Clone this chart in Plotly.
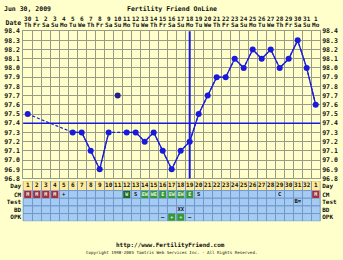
import plotly.graph_objects as go

# ---------------- data ----------------
DAYS = list(range(1, 34))
DATES = ["30", "1", "2", "3", "4", "5", "6", "7", "8", "9", "10", "11", "12", "13", "14", "15", "16",
         "17", "18", "19", "20", "21", "22", "23", "24", "25", "26", "27", "28", "29", "30", "31", "1"]
WEEKDAYS = ["Th", "Fr", "Sa", "Su", "Mo", "Tu", "We", "Th", "Fr", "Sa", "Su", "Mo", "Tu", "We", "Th", "Fr", "Sa",
            "Su", "Mo", "Tu", "We", "Th", "Fr", "Sa", "Su", "Mo", "Tu", "We", "Th", "Fr", "Sa", "Su", "Mo"]
DAY_LABELS = ["1", "2", "3", "4", "5", "6", "7", "8", "9", "10", "11", "12", "13", "14", "15", "16", "17",
              "18", "19", "20", "21", "22", "23", "24", "25", "26", "27", "28", "29", "30", "31", "32", "1"]
TEMPS = [97.5, None, None, None, None, 97.3, 97.3, 97.1, 96.9, 97.3, 97.7, 97.3, 97.3, 97.2, 97.3, 97.1, 96.9,
         97.1, 97.2, 97.5, 97.7, 97.9, 97.9, 98.1, 98.0, 98.2, 98.1, 98.2, 98.0, 98.1, 98.3, 98.0, 97.6]
DISCARDED_DAYS = [11]
COVERLINE = 97.4
OVULATION_DAY = 19
Y_VALUES = [96.8, 96.9, 97.0, 97.1, 97.2, 97.3, 97.4, 97.5, 97.6, 97.7, 97.8, 97.9, 98.0, 98.1, 98.2, 98.3, 98.4]
Y_LABELS = ["96.8", "96.9", "97.0", "97.1", "97.2", "97.3", "97.4", "97.5", "97.6", "97.7", "97.8", "97.9",
            "98.0", "98.1", "98.2", "98.3", "98.4"]
ROW_NAMES = ["Day", "CM", "Test", "BD", "OPK"]

CM_DAYS = [1, 2, 3, 4, 5, 12, 13, 14, 15, 16, 17, 18, 19, 20, 29, 33]
CM_CODES = ["M", "M", "M", "M", "+", "W", "S", "EW", "WE", "E", "EW", "EW", "E", "S", "C", "M"]
TEST_DAYS = [31]
TEST_CODES = ["B="]
BD_DAYS = [18]
BD_CODES = ["XX"]
OPK_DAYS = [16, 17, 18, 19]
OPK_CODES = ["\u2013", "+", "+", "\u2013"]

# ---------------- style ----------------
W, H = 343, 260
MONO = "DejaVu Sans Mono"
CREAM = "#FFFFCC"
GRID = "#9A9A8A"
BLUE = "#1A1ADD"
DAYROW = "#FFEA99"
TABLEBLUE = "#A6CBF2"
TABLEGRID = "#6F98CC"
PINK = "#EE9A9A"
DARKRED = "#993344"
GREEN = "#339933"
DARKGREEN = "#1F6A1F"
TXT = "#111111"

# table row edges in pixel-like units (Day row a bit taller)
ROW_EDGES = [0, 10, 17.9, 25.8, 33.7, 41.6]
ROW_MID = [(a + b) / 2 for a, b in zip(ROW_EDGES[:-1], ROW_EDGES[1:])]

x_dom = [23.2 / W, 320.2 / W]
main_dom = [1 - 180 / H, 1 - 28 / H]
table_top = 182.5
table_dom = [1 - (table_top + ROW_EDGES[-1]) / H, 1 - table_top / H]
head_dom = [1 - 26 / H, 1 - 12 / H]
xrange = [0.5, 33.5]
bounds = [d - 0.5 for d in DAYS] + [DAYS[-1] + 0.5]
trange = [ROW_EDGES[-1], ROW_EDGES[0]]

fig = go.Figure()

# --- temperature lines ---
valid = [(d, t) for d, t in zip(DAYS, TEMPS) if t is not None and d not in DISCARDED_DAYS]
fig.add_trace(go.Scatter(x=[v[0] for v in valid], y=[v[1] for v in valid], mode="lines",
                         line=dict(color=BLUE, width=1.2, dash="3px,2px"), connectgaps=True,
                         hoverinfo="skip", xaxis="x", yaxis="y"))
solid = [t if (t is not None and d not in DISCARDED_DAYS) else None for d, t in zip(DAYS, TEMPS)]
fig.add_trace(go.Scatter(x=DAYS, y=solid, mode="lines", connectgaps=False,
                         line=dict(color=BLUE, width=1.3), hoverinfo="skip", xaxis="x", yaxis="y"))
fig.add_trace(go.Scatter(x=[v[0] for v in valid], y=[v[1] for v in valid], mode="markers",
                         marker=dict(color=BLUE, size=6), xaxis="x", yaxis="y"))
disc = [(d, t) for d, t in zip(DAYS, TEMPS) if d in DISCARDED_DAYS]
fig.add_trace(go.Scatter(x=[v[0] for v in disc], y=[v[1] for v in disc], mode="markers",
                         marker=dict(color="#22228A", size=6), xaxis="x", yaxis="y"))
# dummy for right axis
fig.add_trace(go.Scatter(x=[DAYS[0]], y=[Y_VALUES[0]], mode="markers", marker=dict(opacity=0),
                         hoverinfo="skip", xaxis="x", yaxis="y2"))

# --- header (dates / weekdays) ---
fig.add_trace(go.Scatter(x=DAYS, y=[0.74] * len(DAYS), mode="text", text=DATES,
                         textfont=dict(family=MONO, size=6, color=TXT, weight="bold"),
                         textposition="middle center", hoverinfo="skip", xaxis="x3", yaxis="y4"))
fig.add_trace(go.Scatter(x=DAYS, y=[0.3] * len(DAYS), mode="text", text=WEEKDAYS,
                         textfont=dict(family=MONO, size=6, color=TXT, weight="bold"),
                         textposition="middle center", hoverinfo="skip", xaxis="x3", yaxis="y4"))

# --- table ---
fig.add_trace(go.Scatter(x=DAYS, y=[ROW_MID[0]] * len(DAYS), mode="text", text=DAY_LABELS,
                         textfont=dict(family=MONO, size=6, color=TXT, weight="bold"),
                         textposition="middle center", hoverinfo="skip", xaxis="x2", yaxis="y3"))
fig.add_trace(go.Scatter(x=[DAYS[0]], y=[ROW_MID[0]], mode="markers", marker=dict(opacity=0),
                         hoverinfo="skip", xaxis="x2", yaxis="y5"))

shapes = []
# row backgrounds
for i, name in enumerate(ROW_NAMES):
    shapes.append(dict(type="rect", xref="x2 domain", yref="y3", x0=0, x1=1,
                       y0=ROW_EDGES[i], y1=ROW_EDGES[i + 1],
                       fillcolor=DAYROW if i == 0 else TABLEBLUE,
                       line=dict(color=TABLEGRID if i > 0 else "#C8B878", width=1), layer="below"))


def add_codes(days, codes, row):
    box_x, box_y, box_t, box_c, plain_x, plain_y, plain_t = [], [], [], [], [], [], []
    for d, c in zip(days, codes):
        if c == "M":
            shapes.append(dict(type="rect", xref="x2", yref="y3", x0=d - 0.5, x1=d + 0.5,
                               y0=ROW_EDGES[row], y1=ROW_EDGES[row + 1],
                               fillcolor=PINK, line=dict(width=0), layer="below"))
            box_x.append(d); box_y.append(ROW_MID[row]); box_t.append(c); box_c.append(DARKRED)
        elif c in ("W", "EW", "WE", "E") or (row == 4 and c == "+"):
            box_x.append(d); box_y.append(ROW_MID[row]); box_t.append(c)
            box_c.append(DARKGREEN if c == "W" else GREEN)
        else:
            plain_x.append(d); plain_y.append(ROW_MID[row]); plain_t.append(c)
    if box_x:
        fig.add_trace(go.Scatter(x=box_x, y=box_y, mode="markers+text", text=box_t,
                                 marker=dict(symbol="square", size=7, color=box_c, line=dict(width=0)),
                                 textfont=dict(family=MONO, size=5, color="#E8F4E0", weight="bold"),
                                 textposition="middle center", hoverinfo="skip", xaxis="x2", yaxis="y3"))
    if plain_x:
        fig.add_trace(go.Scatter(x=plain_x, y=plain_y, mode="text", text=plain_t,
                                 textfont=dict(family=MONO, size=5.5, color=TXT, weight="bold"),
                                 textposition="middle center", hoverinfo="skip", xaxis="x2", yaxis="y3"))


add_codes(CM_DAYS, CM_CODES, 1)
add_codes(TEST_DAYS, TEST_CODES, 2)
add_codes(BD_DAYS, BD_CODES, 3)
add_codes(OPK_DAYS, OPK_CODES, 4)

# coverline and ovulation line
shapes.append(dict(type="line", xref="x domain", yref="y", x0=0, x1=1, y0=COVERLINE, y1=COVERLINE,
                   line=dict(color=BLUE, width=1.5)))
shapes.append(dict(type="line", xref="x", yref="y domain", x0=OVULATION_DAY, x1=OVULATION_DAY, y0=0, y1=1,
                   line=dict(color=BLUE, width=2)))

ytick_font = dict(family=MONO, size=6.5, color=TXT, weight="bold")
row_font = dict(family=MONO, size=6, color=TXT, weight="bold")
common_x = dict(range=xrange, domain=x_dom, fixedrange=True, zeroline=False, showticklabels=False, ticks="")

fig.update_layout(
    width=W, height=H, margin=dict(l=0, r=0, t=0, b=0),
    paper_bgcolor=CREAM, plot_bgcolor=CREAM, showlegend=False,
    xaxis=dict(**common_x, anchor="y", tickmode="array", tickvals=bounds, showgrid=True,
               gridcolor=GRID, gridwidth=1, showline=True, linecolor=GRID, mirror=True),
    yaxis=dict(domain=main_dom, range=[Y_VALUES[0], Y_VALUES[-1]], anchor="x", tickmode="array",
               tickvals=Y_VALUES, ticktext=Y_LABELS, showgrid=True, gridcolor=GRID, gridwidth=1,
               zeroline=False, ticks="", tickfont=ytick_font, fixedrange=True, ticklabelstandoff=1,
               showline=True, linecolor=GRID, mirror=True),
    yaxis2=dict(overlaying="y", side="right", anchor="x", range=[Y_VALUES[0], Y_VALUES[-1]],
                tickmode="array", tickvals=Y_VALUES, ticktext=Y_LABELS, showgrid=False, zeroline=False,
                ticks="", tickfont=ytick_font, fixedrange=True, ticklabelstandoff=1),
    xaxis2=dict(**common_x, anchor="y3", tickmode="array", tickvals=bounds, showgrid=True,
                gridcolor=TABLEGRID, gridwidth=1),
    yaxis3=dict(domain=table_dom, range=trange, anchor="x2", tickmode="array",
                tickvals=ROW_MID, ticktext=ROW_NAMES, showgrid=False, zeroline=False,
                ticks="", tickfont=row_font, fixedrange=True, ticklabelstandoff=1),
    yaxis5=dict(overlaying="y3", side="right", anchor="x2", range=trange, tickmode="array",
                tickvals=ROW_MID, ticktext=ROW_NAMES, showgrid=False, zeroline=False,
                ticks="", tickfont=row_font, fixedrange=True, ticklabelstandoff=1),
    xaxis3=dict(**common_x, anchor="y4", showgrid=False),
    yaxis4=dict(domain=head_dom, range=[0, 1], anchor="x3", tickmode="array", tickvals=[0.5],
                ticktext=["Date"], showgrid=False, zeroline=False, ticks="", tickfont=ytick_font,
                fixedrange=True, ticklabelstandoff=1),
    shapes=shapes,
    annotations=[
        dict(text="Jun 30, 2009", xref="paper", yref="paper", x=2 / W, y=1 - 5 / H, xanchor="left",
             yanchor="middle", showarrow=False, font=dict(family=MONO, size=6.5, color=TXT, weight="bold")),
        dict(text="Fertility Friend OnLine", xref="paper", yref="paper", x=172 / W, y=1 - 5 / H,
             xanchor="center", yanchor="middle", showarrow=False,
             font=dict(family=MONO, size=6.5, color=TXT, weight="bold")),
        dict(text="http://www.FertilityFriend.com", xref="paper", yref="paper", x=170 / W, y=1 - 249 / H,
             xanchor="center", yanchor="middle", showarrow=False,
             font=dict(family=MONO, size=6, color=TXT, weight="bold")),
        dict(text="Copyright 1998-2005 Tamtris Web Services Inc. - All Rights Reserved.", xref="paper",
             yref="paper", x=171 / W, y=1 - 256.5 / H, xanchor="center", yanchor="middle", showarrow=False,
             font=dict(family=MONO, size=4.2, color=TXT)),
    ],
)

fig.write_html("out.html")
